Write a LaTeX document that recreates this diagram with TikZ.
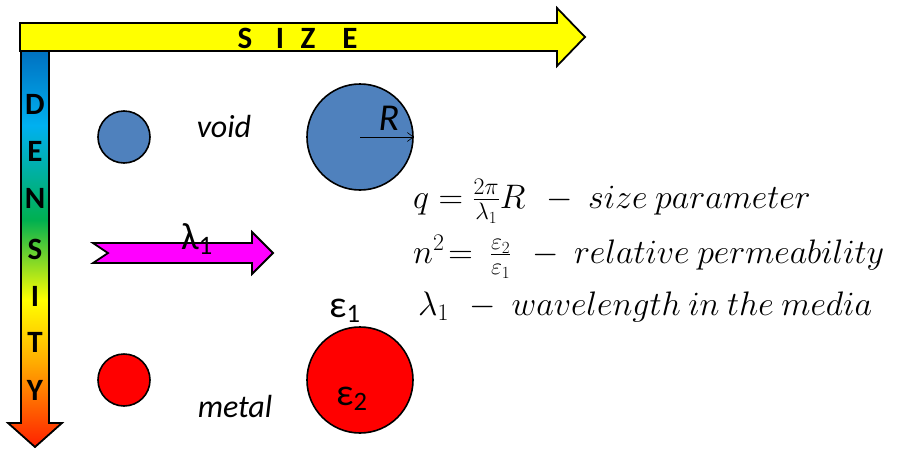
\documentclass[tikz,border=0pt]{standalone}
\usepackage{fix-cm}
\usepackage[no-math]{fontspec}
\setmainfont{Carlito}
\usetikzlibrary{arrows.meta}
\definecolor{voidblue}{HTML}{4F81BD}
\definecolor{metalred}{HTML}{FF0000}
\definecolor{sizeyellow}{HTML}{FFFF00}
\definecolor{wavepink}{HTML}{FF00FF}
\definecolor{densA}{HTML}{0070C0}
\definecolor{densB}{HTML}{00B0F0}
\definecolor{densC}{HTML}{00B050}
\definecolor{densD}{HTML}{FFFF00}
\definecolor{densE}{HTML}{FFB000}
\definecolor{densF}{HTML}{FF2000}
% blue at the top, red at the bottom
\pgfdeclareverticalshading{densityshade}{100bp}{color(0bp)=(densF); color(25bp)=(densF);
  color(36bp)=(densE); color(43.5bp)=(densD); color(53.6bp)=(densC);
  color(65.5bp)=(densB); color(75bp)=(densA); color(100bp)=(densA)}

\begin{document}
\begin{tikzpicture}[x=1pt, y=-1pt,
    outline/.style={draw=black, line width=1.8pt, line join=miter},
    ball/.style={circle, draw=black, line width=1.6pt, inner sep=0pt},
    smallball/.style={ball, minimum size=52pt},
    bigball/.style={ball, minimum size=106pt},
    letter/.style={inner sep=0pt, font=\fontsize{31}{31}\selectfont\bfseries},
    label/.style={inner sep=0pt, font=\fontsize{32}{32}\selectfont\itshape},
    greek/.style={inner sep=0pt, anchor=base west, font=\fontsize{38}{38}\selectfont},
    formula/.style={inner sep=0pt, anchor=base west, font=\fontsize{34}{34}\selectfont}
]
\useasboundingbox (0,0) rectangle (903,450);

% density axis
\path[outline, shading=densityshade]
  (21,50) -- (49,50) -- (49,423) -- (62,423) -- (35,447) -- (8,423) -- (21,423) -- cycle;
\foreach \ch/\yy in {D/104, E/151, N/198, S/249, I/296, T/342, Y/390}
  \node[letter] (den-\ch) at (35,\yy) {\ch};

% size axis
\path[outline, fill=sizeyellow]
  (20,23) -- (557,23) -- (557,8) -- (585,37) -- (557,66) -- (557,51) -- (20,51) -- cycle;
\foreach \ch/\xx in {S/245, I/280, Z/308, E/350}
  \node[letter] (siz-\ch) at (\xx,38) {\ch};

% incident wave
\path[outline, fill=wavepink]
  (93,243) -- (252,243) -- (252,232) -- (273,253) -- (252,274) -- (252,263) -- (93,263) -- (108,253) -- cycle;
\node[greek] (lam) at (181,249) {λ\textsubscript{1}};

% particles
\node[smallball, fill=voidblue] (voidsmall) at (124,137) {};
\node[bigball, fill=voidblue] (voidbig) at (360,137) {};
\node[label, anchor=base] (voidtxt) at (224,137) {void};
\node[inner sep=0pt, font=\fontsize{38}{38}\selectfont\itshape] (rad) at (389,118) {R};
\draw[line width=0.6pt, -{Straight Barb[length=6pt, width=9pt]}] (voidbig.center) -- (voidbig.east);

\node[smallball, fill=metalred] (metalsmall) at (124,380) {};
\node[bigball, fill=metalred] (metalbig) at (360,380) {};
\node[label, anchor=base] (metaltxt) at (235,417) {metal};
\node[greek] (eps1) at (329,317) {ε\textsubscript{1}};
\node[greek] (eps2) at (336,405) {ε\textsubscript{2}};

% definitions
\node[formula] (qdef) at (413,208) {$q=\frac{2\pi}{\lambda_1}R\ \,-\ size\ parameter$};
\node[formula] (ndef) at (413,263) {$n^2\!=\ \frac{\varepsilon_2}{\varepsilon_1}\ \,-\ relative\ permeability$};
\node[formula] (ldef) at (418,315) {$\lambda_1\ \,-\ wavelength\ in\ the\ media$};
\end{tikzpicture}
\end{document}
